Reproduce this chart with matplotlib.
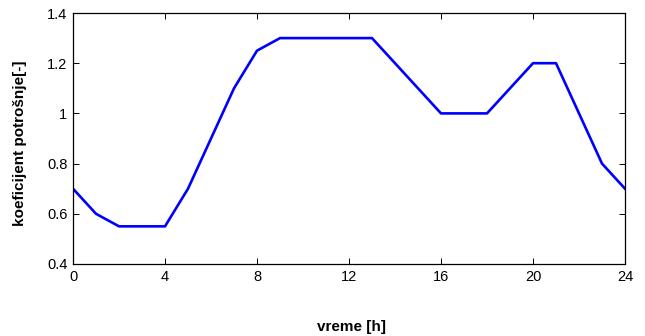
import matplotlib
matplotlib.use("Agg")
import matplotlib.pyplot as plt

# hourly consumption coefficient
hours = list(range(25))
coef = [0.7, 0.6, 0.55, 0.55, 0.55, 0.7, 0.9, 1.1, 1.25, 1.3, 1.3, 1.3, 1.3,
        1.3, 1.2, 1.1, 1.0, 1.0, 1.0, 1.1, 1.2, 1.2, 1.0, 0.8, 0.7]
x_ticks = [0, 4, 8, 12, 16, 20, 24]
y_ticks = [0.4, 0.6, 0.8, 1.0, 1.2, 1.4]
y_tick_labels = ['0.4', '0.6', '0.8', '1', '1.2', '1.4']

plt.rcParams['font.family'] = ['Liberation Sans', 'DejaVu Sans']

fig = plt.figure(figsize=(6.45, 3.36), dpi=100)
ax = fig.add_axes([0.1132, 0.2143, 0.8558, 0.7470])

ax.plot(hours, coef, color='#0000ff', linewidth=1.9)

ax.set_xlim(0, 24)
ax.set_ylim(0.4, 1.4)
ax.set_xticks(x_ticks)
ax.set_yticks(y_ticks)
ax.set_yticklabels(y_tick_labels)
ax.tick_params(direction='in', length=4, width=0.7, labelsize=10.5,
               top=True, right=True, pad=4)
for s in ax.spines.values():
    s.set_linewidth(0.9)

ax.set_xlabel('vreme [h]', fontsize=11, fontweight='bold')
ax.set_ylabel('koeficijent potrošnje[-]', fontsize=11, fontweight='bold')
ax.xaxis.set_label_coords(0.505, -0.225)
ax.yaxis.set_label_coords(-0.084, 0.48)

fig.savefig('out.png', dpi=100)
plt.close(fig)
